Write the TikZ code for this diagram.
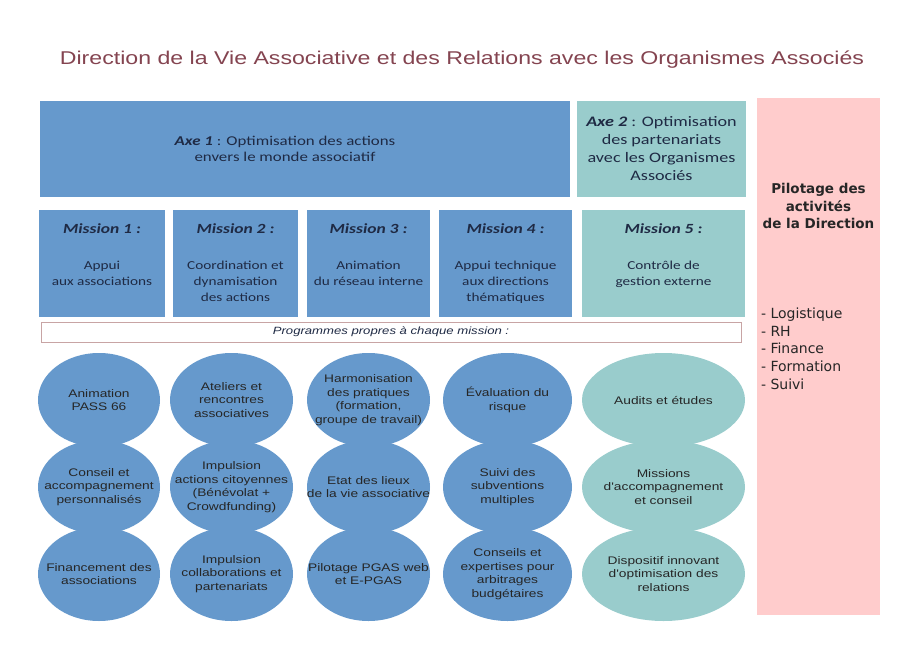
\documentclass[tikz,border=0pt]{standalone}
\usepackage{fontspec}
\setmainfont[FakeStretch=1.25]{Liberation Sans}
\newfontfamily\boxfont[FakeStretch=1.25]{Carlito}
\newfontfamily\ovalfont[FakeStretch=1.25]{Liberation Sans}
\newfontfamily\pilotfont{DejaVu Sans}
\usepackage{xcolor}
\usepackage{tikz}
\usetikzlibrary{shapes.geometric}

\definecolor{axeblue}{HTML}{6699CC}
\definecolor{axeteal}{HTML}{99CCCC}
\definecolor{pilotpink}{HTML}{FFCCCC}
\definecolor{titlebrown}{HTML}{844450}
\definecolor{inkdark}{HTML}{1F2A44}
\definecolor{barline}{HTML}{C8A4A4}

\tikzstyle{heading} = [text=titlebrown, font=\fontsize{18.5}{22}\selectfont]
\tikzstyle{axebox} = [rectangle, inner sep=0pt, minimum height=96pt, align=center, text=inkdark, font=\boxfont\fontsize{13.5}{16}\selectfont]
\tikzstyle{missionbox} = [rectangle, inner sep=0pt, minimum height=107pt, text=inkdark]
\tikzstyle{progbar} = [rectangle, draw=barline, line width=0.8pt, fill=white, minimum width=700pt, minimum height=20pt, text=inkdark, font=\ovalfont\itshape\fontsize{10.5}{12}\selectfont]
\tikzstyle{oval} = [ellipse, inner sep=-40pt, minimum height=94pt, align=center, text=black!85, font=\ovalfont\fontsize{11}{13.5}\selectfont]
\tikzstyle{pilotbox} = [rectangle, fill=pilotpink, minimum width=123pt, minimum height=517pt, text=black!85, font=\pilotfont]

% texte d'une mission : titre en haut, puis le libelle
\newcommand{\missiontext}[2]{\parbox[c][80pt][t]{122pt}{\centering\boxfont
  {\fontsize{14}{17}\selectfont\textbf{\textit{#1}}\par}
  \vspace{20pt}
  {\fontsize{12.2}{16}\selectfont #2\par}}}

\begin{document}
\begin{tikzpicture}[x=1pt, y=-1pt]
        \useasboundingbox (0,0) rectangle (909,650);

        % Title
        \node (title) [heading] at (462,60) {Direction de la Vie Associative et des Relations avec les Organismes Associés};

        % Axes
        \node (axe1) [axebox, fill=axeblue, minimum width=530pt] at (305,149) {\hspace*{-40pt}\textbf{\textit{Axe 1}} : Optimisation des actions\\\hspace*{-40pt}envers le monde associatif};
        \node (axe2) [axebox, fill=axeteal, minimum width=169pt, font=\boxfont\fontsize{14.5}{18}\selectfont] at (661.5,149) {\textbf{\textit{Axe 2}} : Optimisation\\des partenariats\\avec les Organismes\\Associés};

        % Pilotage
        \node (pilot) [pilotbox] at (818.5,356.5) {\parbox[c][440pt][t]{115pt}{%
            \vspace*{47pt}
            {\centering\bfseries\fontsize{13.5}{17.5}\selectfont Pilotage des\\activités\\de la Direction\par}
            \vspace{72pt}
            {\raggedright\fontsize{14}{17.7}\selectfont - Logistique\\- RH\\- Finance\\- Formation\\- Suivi\par}}};

        % Missions
        \node (m1) [missionbox, fill=axeblue, minimum width=126pt] at (102,263.5) {\missiontext{Mission 1 :}{Appui\\aux associations}};
        \node (m2) [missionbox, fill=axeblue, minimum width=125pt] at (235.5,263.5) {\missiontext{Mission 2 :}{Coordination et\\dynamisation\\des actions}};
        \node (m3) [missionbox, fill=axeblue, minimum width=123pt] at (368.5,263.5) {\missiontext{Mission 3 :}{Animation\\du réseau interne}};
        \node (m4) [missionbox, fill=axeblue, minimum width=133pt] at (505.5,263.5) {\missiontext{Mission 4 :}{Appui technique\\aux directions\\thématiques}};
        \node (m5) [missionbox, fill=axeteal, minimum width=163pt] at (663.5,263.5) {\missiontext{Mission 5 :}{Contrôle de\\gestion externe}};

        % Programmes
        \node (prog) [progbar] at (391,332) {Programmes propres à chaque mission :};

        \node (p11) [oval, fill=axeblue, minimum width=122pt] at (99,400) {Animation\\PASS 66};
        \node (p12) [oval, fill=axeblue, minimum width=122pt] at (99,487) {Conseil et\\accompagnement\\personnalisés};
        \node (p13) [oval, fill=axeblue, minimum width=122pt] at (99,574) {Financement des\\associations};

        \node (p21) [oval, fill=axeblue, minimum width=123pt] at (231.5,400) {Ateliers et\\rencontres\\associatives};
        \node (p22) [oval, fill=axeblue, minimum width=123pt] at (231.5,487) {Impulsion\\actions citoyennes\\(Bénévolat +\\Crowdfunding)};
        \node (p23) [oval, fill=axeblue, minimum width=123pt] at (231.5,574) {Impulsion\\collaborations et\\partenariats};

        \node (p31) [oval, fill=axeblue, minimum width=123pt] at (368.5,400) {Harmonisation\\des pratiques\\(formation,\\groupe de travail)};
        \node (p32) [oval, fill=axeblue, minimum width=123pt] at (368.5,487) {Etat des lieux\\de la vie associative};
        \node (p33) [oval, fill=axeblue, minimum width=123pt] at (368.5,574) {Pilotage PGAS web\\et E-PGAS};

        \node (p41) [oval, fill=axeblue, minimum width=129pt] at (507.5,400) {Évaluation du\\risque};
        \node (p42) [oval, fill=axeblue, minimum width=129pt] at (507.5,487) {Suivi des\\subventions\\multiples};
        \node (p43) [oval, fill=axeblue, minimum width=129pt] at (507.5,574) {Conseils et\\expertises pour\\arbitrages\\budgétaires};

        \node (p51) [oval, fill=axeteal, minimum width=163pt] at (663.5,400) {Audits et études};
        \node (p52) [oval, fill=axeteal, minimum width=163pt] at (663.5,487) {Missions\\d'accompagnement\\et conseil};
        \node (p53) [oval, fill=axeteal, minimum width=163pt] at (663.5,574) {Dispositif innovant\\d'optimisation des\\relations};

\end{tikzpicture}
\end{document}
